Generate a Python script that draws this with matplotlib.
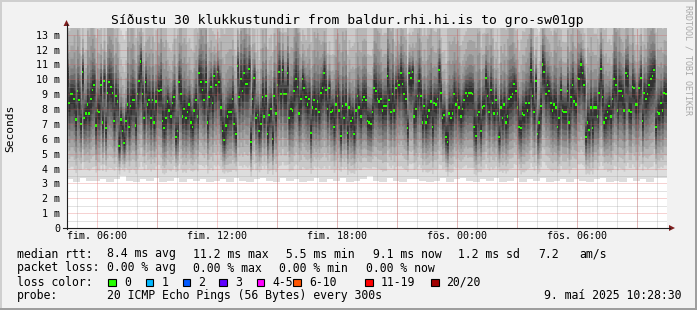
import numpy as np
import matplotlib
matplotlib.use("Agg")
import matplotlib.pyplot as plt
from matplotlib.patches import Rectangle, Polygon
from matplotlib.lines import Line2D

# median rtt (ms) for every 5 minute step, thu 04:28 -> fri 10:28
median_ms = [
    10.2, 8.4, 9.0, 9.0, 8.7, 7.3, 9.2, 8.6, 7.0, 10.5,
    7.4, 7.7, 8.3, 7.7, 8.7, 9.3, 9.6, 6.9, 7.9, 7.8,
    9.6, 7.1, 9.9, 6.7, 9.1, 9.8, 9.5, 9.1, 7.2, 8.9,
    8.5, 5.5, 7.3, 6.5, 5.7, 7.2, 8.3, 6.8, 8.2, 8.6,
    8.6, 6.9, 9.0, 9.9, 11.2, 9.0, 7.4, 9.8, 8.3, 8.6,
    7.4, 8.6, 7.1, 8.5, 9.3, 9.2, 9.3, 7.2, 6.7, 7.4,
    8.5, 7.9, 7.5, 8.4, 8.8, 6.1, 6.5, 9.8, 9.0, 7.5,
    8.0, 7.4, 7.8, 8.3, 7.1, 6.8, 7.9, 8.6, 7.5, 10.4,
    9.8, 9.3, 8.6, 9.8, 7.1, 8.8, 9.5, 8.4, 10.2, 9.6,
    10.5, 9.8, 8.1, 6.5, 5.9, 6.9, 7.5, 7.8, 7.8, 8.7,
    7.0, 6.3, 10.9, 8.8, 10.0, 9.2, 10.4, 9.7, 9.7, 10.7,
    5.8, 8.7, 10.1, 7.4, 7.6, 6.5, 7.0, 8.8, 7.5, 8.9,
    6.3, 7.6, 8.0, 6.0, 8.9, 7.7, 9.6, 10.5, 9.0, 10.6,
    9.0, 9.0, 10.4, 7.4, 8.0, 7.9, 9.2, 10.0, 9.5, 7.7,
    8.7, 10.0, 9.4, 8.8, 8.3, 8.7, 6.4, 8.1, 8.6, 8.0,
    8.5, 7.8, 9.1, 9.4, 10.4, 9.3, 8.0, 9.4, 7.8, 7.9,
    6.8, 8.3, 8.9, 7.9, 6.2, 8.2, 7.4, 8.3, 6.4, 8.1,
    7.2, 7.4, 6.3, 7.9, 8.9, 8.1, 7.5, 8.6, 8.8, 8.6,
    7.2, 7.1, 7.0, 7.8, 9.4, 9.2, 8.7, 8.5, 8.7, 7.9,
    8.2, 8.2, 10.2, 8.6, 7.8, 9.0, 7.9, 9.4, 9.9, 9.6,
    10.4, 9.7, 9.0, 8.7, 6.7, 10.4, 10.1, 10.5, 7.5, 8.0,
    8.9, 9.9, 8.9, 7.1, 8.2, 7.1, 7.5, 7.9, 8.5, 6.8,
    8.4, 8.3, 8.7, 10.6, 9.1, 7.4, 7.6, 6.1, 5.8, 7.7,
    7.4, 7.7, 9.0, 8.3, 8.6, 8.1, 7.5, 8.0, 8.6, 9.1,
    8.9, 9.1, 9.1, 9.0, 6.8, 6.2, 7.6, 7.8, 6.5, 8.1,
    8.2, 10.1, 8.9, 7.8, 9.3, 8.4, 7.7, 8.6, 7.7, 6.1,
    8.1, 7.4, 8.3, 7.1, 7.5, 8.7, 8.8, 9.0, 9.7, 9.2,
    8.1, 6.8, 6.7, 7.7, 7.6, 8.4, 7.9, 8.4, 10.6, 8.9,
    7.8, 9.9, 6.3, 7.1, 8.2, 11.0, 10.5, 9.0, 9.6, 9.2,
    8.4, 7.9, 8.3, 8.1, 6.8, 7.4, 9.3, 7.9, 7.8, 7.8,
    9.2, 7.1, 8.8, 9.6, 8.5, 8.3, 10.1, 10.0, 11.0, 10.4,
    9.6, 6.1, 7.1, 6.6, 8.1, 6.7, 8.1, 8.1, 7.5, 9.1,
    10.7, 8.8, 7.1, 7.4, 7.8, 8.2, 7.5, 8.7, 10.0, 9.6,
    7.9, 9.2, 9.2, 8.9, 7.9, 10.4, 10.2, 7.9, 7.8, 9.5,
    9.4, 8.3, 8.3, 9.4, 10.1, 7.2, 9.1, 8.7, 9.0, 9.6,
    10.0, 10.2, 10.6, 6.8, 7.8, 7.7, 8.4, 7.9, 9.1, 9.0,
]

# fastest and slowest ping (ms) per 20 minutes
min_ms = [
    3.3, 3.1, 3.4, 3.2, 3.2, 3.3, 3.1, 3.3, 3.5, 3.2,
    3.1, 3.3, 3.2, 3.4, 3.1, 3.2, 3.4, 3.1, 3.3, 3.2,
    3.3, 3.1, 3.2, 3.3, 3.1, 3.4, 3.2, 3.1, 3.3, 3.4,
    3.2, 3.1, 3.4, 3.2, 3.3, 3.1, 3.2, 3.4, 3.1, 3.3,
    3.2, 3.4, 3.1, 3.2, 3.3, 3.5, 3.2, 3.1, 3.4, 3.2,
    3.1, 3.3, 3.3, 3.2, 3.1, 3.2, 3.4, 3.1, 3.3, 3.4,
    3.2, 3.1, 3.3, 3.2, 3.4, 3.1, 3.2, 3.4, 3.1, 3.3,
    3.2, 3.4, 3.1, 3.2, 3.3, 3.1, 3.3, 3.2, 3.1, 3.3,
    3.4, 3.1, 3.2, 3.1, 3.4, 3.2, 3.3, 3.1, 3.4, 3.4,
]
max_ms = [
    20, 23, 18, 25, 21, 19, 24, 22, 17, 26,
    21, 19, 23, 20, 25, 18, 22, 24, 19, 21,
    26, 20, 17, 23, 22, 19, 25, 21, 18, 24,
    20, 23, 19, 22, 26, 18, 21, 24, 20, 17,
    23, 25, 19, 21, 22, 18, 24, 20, 26, 19,
    22, 17, 23, 21, 25, 20, 18, 24, 22, 19,
    21, 26, 20, 23, 18, 22, 25, 19, 21, 24,
    17, 22, 20, 25, 19, 23, 21, 18, 24, 20,
    22, 19, 26, 21, 23, 18, 20, 25, 22, 21,
]

time_labels = ["fim. 06:00", "fim. 12:00", "fim. 18:00", "fös. 00:00", "fös. 06:00"]
loss_labels = ["0", "1", "2", "3", "4-5", "6-10", "11-19", "20/20"]
loss_colors = ["#26ff00", "#00b8ff", "#0059ff", "#5e00ff", "#ff00ff", "#ff5500", "#ff0000", "#a10000"]

W, H = 697, 310
MONO = "DejaVu Sans Mono"


def fx(x):
    return x / W


def fy(y):
    return 1 - y / H


fig = plt.figure(figsize=(W / 100, H / 100), dpi=100)
fig.patch.set_facecolor("#f2f2f2")

ax = fig.add_axes([fx(66.5), fy(228), 600 / W, 200 / H])
ax.set_facecolor("white")
ax.set_xlim(0, 30)
ax.set_ylim(0, 200 / 14.87)

# smoke: 10 bands from outer (light) to inner (dark)
med = np.array(median_ms)
lo = np.repeat(min_ms, 4)
hi = np.repeat(max_ms, 4)
x = np.arange(len(med) + 1) / 12.0
low_frac = [1.0, 0.85, 0.73, 0.62, 0.52, 0.43, 0.34, 0.26, 0.18, 0.11]
up_frac = [1.0, 0.62, 0.42, 0.3, 0.22, 0.16, 0.12, 0.09, 0.065, 0.04]
for i in range(10):
    g = (19 * (9 - i) + 50) / 255
    bot = med - (med - lo) * low_frac[i]
    top = med + (hi - med) * up_frac[i]
    ax.fill_between(x, np.append(bot, bot[-1]), np.append(top, top[-1]),
                    step="post", color=(g, g, g), lw=0, antialiased=False, zorder=1)

# median dots
ax.bar(np.arange(len(med)) / 12.0, 0.15, bottom=med - 0.075, width=1 / 12.0,
       align="edge", color="#26ff00", lw=0, antialiased=False, zorder=3)

# grid on top, rrdtool style dotted
dots = (0, (1, 1))
for v in np.arange(0.5, 13.5, 1.0):
    ax.axhline(v, color="#8f8f8f", alpha=0.5, lw=0.72, ls=dots, zorder=4)
for v in range(1, 14):
    ax.axhline(v, color="#de4f4f", alpha=0.5, lw=0.72, ls=dots, zorder=4)
for h in np.arange(0.525, 30, 1.0):
    if abs((h - 1.525) % 3) > 0.01:
        ax.axvline(h, color="#8f8f8f", alpha=0.5, lw=0.72, ls=dots, zorder=4)
for h in np.arange(1.525, 30, 3.0):
    ax.axvline(h, color="#de4f4f", alpha=0.55, lw=0.72, ls=dots, zorder=4)

for s in ax.spines.values():
    s.set_visible(False)

ax.set_yticks(range(14))
ax.set_yticklabels(["0"] + [f"{i} m" for i in range(1, 14)], fontsize=7.2, family=MONO)
ax.set_xticks(np.arange(1.525, 30, 6.0))
ax.set_xticklabels(time_labels, fontsize=7.2, family=MONO)
ax.tick_params(axis="y", length=0, pad=4.5)
ax.tick_params(axis="x", length=0, pad=2.5)

# axes lines with arrows
fig.add_artist(Line2D([fx(66.5), fx(66.5)], [fy(229), fy(24)], color="#1f1f1f", lw=0.8))
fig.add_artist(Line2D([fx(63), fx(670)], [fy(228), fy(228)], color="#1f1f1f", lw=0.8))
fig.add_artist(Polygon([[fx(63.5), fy(26)], [fx(69.5), fy(26)], [fx(66.5), fy(20)]],
                       closed=True, color="#801f1f", lw=0))
fig.add_artist(Polygon([[fx(669), fy(225)], [fx(669), fy(231)], [fx(675), fy(228)]],
                       closed=True, color="#801f1f", lw=0))

fig.text(fx(347.5), fy(24), "Síðustu 30 klukkustundir from baldur.rhi.hi.is to gro-sw01gp",
         ha="center", va="baseline", fontsize=9.4, family=MONO)
fig.text(fx(10), fy(128), "Seconds", rotation=90, ha="center", va="center",
         fontsize=8.1, family=MONO)
fig.text(fx(688), fy(60), "RRDTOOL / TOBI OETIKER", rotation=270, ha="center", va="center",
         fontsize=6, family=MONO, color="#a8a8a8")

# legend
lf = 8.3
rows = [
    (257.5, [(16.7, "median rtt:"), (107.3, "8.4 ms avg"), (193.3, "11.2 ms max"),
             (279.3, " 5.5 ms min"), (366, " 9.1 ms now"), (451.3, " 1.2 ms sd"),
             (538.3, "7.2"), (579.3, "am/s")]),
    (271.5, [(16.7, "packet loss:"), (107.3, "0.00 % avg"), (193.3, "0.00 % max"),
             (279.3, "0.00 % min"), (366, "0.00 % now")]),
    (299.0, [(16.7, "probe:"), (107.3, "20 ICMP Echo Pings (56 Bytes) every 300s")]),
]
for yb, items in rows:
    for xl, txt in items:
        fig.text(fx(xl), fy(yb), txt, ha="left", va="baseline", fontsize=lf, family=MONO)
fig.text(fx(681.7), fy(299.0), "9. maí 2025 10:28:30", ha="right", va="baseline",
         fontsize=lf, family=MONO)

fig.text(fx(16.7), fy(285.5), "loss color:", ha="left", va="baseline", fontsize=lf, family=MONO)
box_x = [108.3, 145.7, 182.7, 219.3, 256.7, 293.3, 365, 431]
for bx, lab, col in zip(box_x, loss_labels, loss_colors):
    fig.add_artist(Rectangle((fx(bx), fy(286)), 7.5 / W, 7.5 / H, facecolor=col,
                             edgecolor="black", lw=0.8))
    fig.text(fx(bx + 15.5), fy(285.5), lab, ha="left", va="baseline", fontsize=lf, family=MONO)

# 3d frame
fig.add_artist(Rectangle((0, 1 - 2 / H), 1, 2 / H, color="#cfcfcf", lw=0))
fig.add_artist(Rectangle((0, 0), 2 / W, 1, color="#cfcfcf", lw=0))
fig.add_artist(Rectangle((1 - 2 / W, 0), 2 / W, 1, color="#9e9e9e", lw=0))
fig.add_artist(Rectangle((0, 0), 1, 2 / H, color="#9e9e9e", lw=0))

fig.savefig("out.png", dpi=100, facecolor=fig.get_facecolor())
